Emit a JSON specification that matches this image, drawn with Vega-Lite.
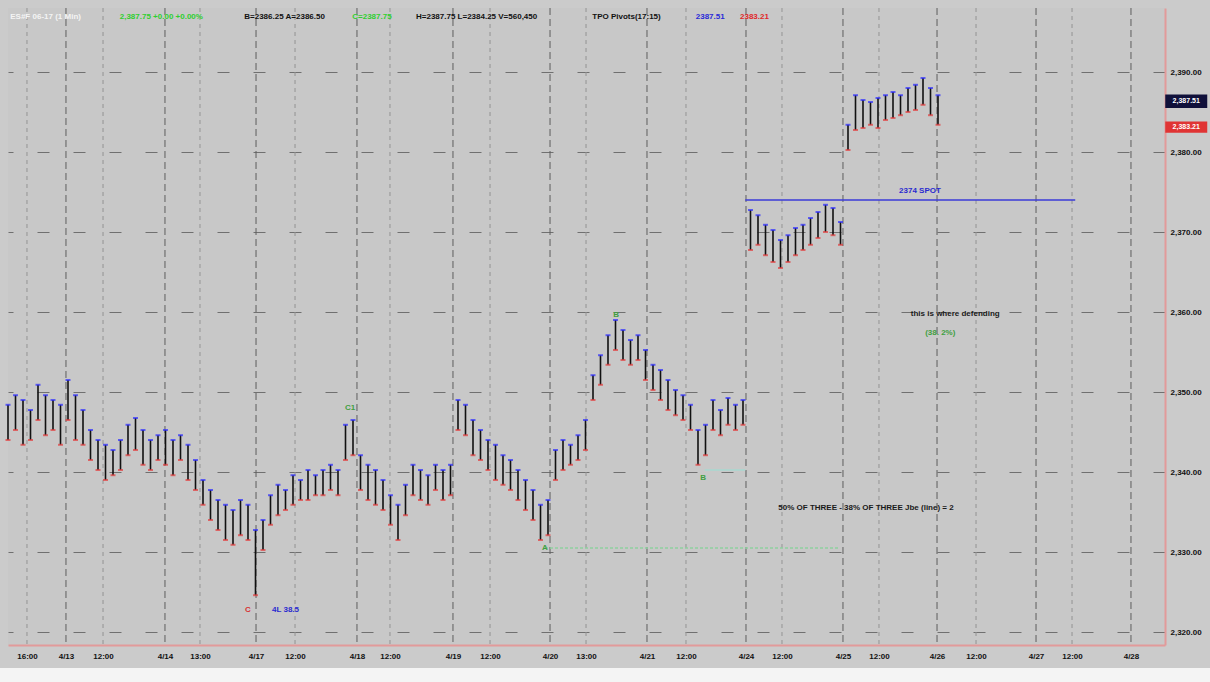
{
  "$schema": "https://vega.github.io/schema/vega-lite/v6.json",
  "autosize": {"type": "none"},
  "width": 1157,
  "height": 637,
  "padding": {"left": 8, "top": 8, "right": 45, "bottom": 37},
  "background": "#cbcbcb",
  "config": {
    "view": {"fill": "#c8c8c8", "stroke": null},
    "font": "Liberation Sans",
    "axis": {"labelFont": "Liberation Sans", "labelFontSize": 8, "labelColor": "#111", "labelFontWeight": "bold", "ticks": false, "title": null}
  },
  "datasets": {
    "bars": [
      {"i":0,"h":2348.4,"l":2344.0},{"i":1,"h":2349.6,"l":2345.25},{"i":2,"h":2349.0,"l":2343.4},{"i":3,"h":2347.75,"l":2344.0},{"i":4,"h":2350.9,"l":2346.5},
      {"i":5,"h":2349.6,"l":2344.6},{"i":6,"h":2349.0,"l":2345.25},{"i":7,"h":2348.4,"l":2343.4},{"i":8,"h":2351.5,"l":2346.5},{"i":9,"h":2349.6,"l":2344.0},
      {"i":10,"h":2347.75,"l":2343.4},{"i":11,"h":2345.25,"l":2341.5},{"i":12,"h":2344.0,"l":2340.25},{"i":13,"h":2343.4,"l":2339.0},{"i":14,"h":2342.75,"l":2339.6},
      {"i":15,"h":2344.0,"l":2340.25},{"i":16,"h":2345.9,"l":2342.1},{"i":17,"h":2346.75,"l":2342.75},{"i":18,"h":2345.25,"l":2340.9},{"i":19,"h":2344.0,"l":2340.25},
      {"i":20,"h":2344.6,"l":2341.5},{"i":21,"h":2345.25,"l":2340.9},{"i":22,"h":2344.0,"l":2339.6},{"i":23,"h":2344.6,"l":2341.5},{"i":24,"h":2343.4,"l":2339.0},
      {"i":25,"h":2341.5,"l":2337.75},{"i":26,"h":2339.0,"l":2335.9},{"i":27,"h":2337.75,"l":2334.0},{"i":28,"h":2336.5,"l":2332.75},{"i":29,"h":2335.9,"l":2331.5},
      {"i":30,"h":2335.25,"l":2330.9},{"i":31,"h":2336.5,"l":2332.1},{"i":32,"h":2335.9,"l":2331.5},{"i":33,"h":2332.75,"l":2324.6},{"i":34,"h":2334.0,"l":2330.25},
      {"i":35,"h":2337.1,"l":2333.4},{"i":36,"h":2338.4,"l":2334.6},{"i":37,"h":2337.75,"l":2335.25},{"i":38,"h":2339.6,"l":2335.9},{"i":39,"h":2339.0,"l":2336.5},
      {"i":40,"h":2340.25,"l":2336.5},{"i":41,"h":2339.6,"l":2337.1},{"i":42,"h":2340.25,"l":2337.1},{"i":43,"h":2340.9,"l":2337.75},{"i":44,"h":2340.25,"l":2337.1},
      {"i":45,"h":2345.9,"l":2341.5},{"i":46,"h":2346.5,"l":2342.1},{"i":47,"h":2342.1,"l":2337.75},{"i":48,"h":2340.9,"l":2336.5},{"i":49,"h":2340.25,"l":2335.9},
      {"i":50,"h":2339.0,"l":2335.25},{"i":51,"h":2337.1,"l":2333.4},{"i":52,"h":2335.9,"l":2331.5},{"i":53,"h":2338.4,"l":2334.6},{"i":54,"h":2340.9,"l":2337.1},
      {"i":55,"h":2340.25,"l":2336.5},{"i":56,"h":2339.6,"l":2335.9},{"i":57,"h":2340.9,"l":2337.75},{"i":58,"h":2340.25,"l":2336.5},{"i":59,"h":2340.9,"l":2337.1},
      {"i":60,"h":2349.0,"l":2345.25},{"i":61,"h":2348.4,"l":2344.6},{"i":62,"h":2346.5,"l":2342.1},{"i":63,"h":2345.25,"l":2341.5},{"i":64,"h":2344.0,"l":2340.25},
      {"i":65,"h":2343.4,"l":2339.0},{"i":66,"h":2342.1,"l":2338.4},{"i":67,"h":2341.5,"l":2337.75},{"i":68,"h":2340.25,"l":2336.5},{"i":69,"h":2339.0,"l":2335.25},
      {"i":70,"h":2337.75,"l":2334.0},{"i":71,"h":2335.9,"l":2331.5},{"i":72,"h":2336.5,"l":2332.1},{"i":73,"h":2342.75,"l":2339.0},{"i":74,"h":2344.0,"l":2340.25},
      {"i":75,"h":2343.4,"l":2340.9},{"i":76,"h":2344.6,"l":2341.5},{"i":77,"h":2346.5,"l":2342.75},{"i":78,"h":2352.1,"l":2349.0},{"i":79,"h":2354.6,"l":2350.9},
      {"i":80,"h":2357.1,"l":2353.4},{"i":81,"h":2359.0,"l":2355.25},{"i":82,"h":2357.75,"l":2354.0},{"i":83,"h":2356.5,"l":2353.4},{"i":84,"h":2357.1,"l":2354.0},
      {"i":85,"h":2355.25,"l":2351.5},{"i":86,"h":2353.4,"l":2350.25},{"i":87,"h":2352.75,"l":2349.0},{"i":88,"h":2351.5,"l":2347.75},{"i":89,"h":2350.25,"l":2347.1},
      {"i":90,"h":2349.6,"l":2346.5},{"i":91,"h":2348.4,"l":2345.25},{"i":92,"h":2345.25,"l":2340.9},{"i":93,"h":2345.9,"l":2342.1},{"i":94,"h":2349.0,"l":2345.25},
      {"i":95,"h":2347.75,"l":2344.6},{"i":96,"h":2349.25,"l":2345.9},{"i":97,"h":2348.4,"l":2345.25},{"i":98,"h":2349.0,"l":2345.9},
      {"i":99,"h":2372.75,"l":2367.75},{"i":100,"h":2372.1,"l":2368.4},{"i":101,"h":2370.9,"l":2367.1},{"i":102,"h":2370.25,"l":2366.25},{"i":103,"h":2369.0,"l":2365.5},
      {"i":104,"h":2369.6,"l":2366.25},{"i":105,"h":2370.5,"l":2367.1},{"i":106,"h":2370.9,"l":2367.75},{"i":107,"h":2371.75,"l":2368.4},{"i":108,"h":2372.5,"l":2369.25},
      {"i":109,"h":2373.4,"l":2370.0},{"i":110,"h":2373.0,"l":2369.6},{"i":111,"h":2371.25,"l":2368.4},
      {"i":112,"h":2383.4,"l":2380.25},{"i":113,"h":2387.1,"l":2382.75},{"i":114,"h":2386.5,"l":2383.0},{"i":115,"h":2386.25,"l":2383.4},{"i":116,"h":2386.75,"l":2383.0},
      {"i":117,"h":2387.1,"l":2384.0},{"i":118,"h":2387.5,"l":2384.25},{"i":119,"h":2387.1,"l":2384.6},{"i":120,"h":2388.0,"l":2385.0},{"i":121,"h":2388.4,"l":2385.25},
      {"i":122,"h":2389.25,"l":2385.9},{"i":123,"h":2388.0,"l":2384.6},{"i":124,"h":2387.1,"l":2383.4}
    ],
    "grid": [
      {"i":2.53,"kind":"hour"},{"i":7.73,"kind":"day"},{"i":12.67,"kind":"hour"},{"i":20.93,"kind":"day"},{"i":25.6,"kind":"hour"},
      {"i":33.07,"kind":"day"},{"i":38.27,"kind":"hour"},{"i":46.53,"kind":"day"},{"i":50.93,"kind":"hour"},{"i":59.33,"kind":"day"},
      {"i":64.27,"kind":"hour"},{"i":72.27,"kind":"day"},{"i":77.07,"kind":"hour"},{"i":85.2,"kind":"day"},{"i":90.4,"kind":"hour"},
      {"i":98.4,"kind":"day"},{"i":103.2,"kind":"hour"},{"i":111.33,"kind":"day"},{"i":116.13,"kind":"hour"},{"i":123.87,"kind":"day"},
      {"i":129.07,"kind":"hour"},{"i":137.07,"kind":"day"},{"i":141.87,"kind":"hour"},{"i":149.73,"kind":"day"}
    ],
    "levels": [
      {"i":98.3,"i2":142.3,"p":2374.0,"kind":"spot"},
      {"i":71.6,"i2":110.9,"p":2330.5,"kind":"wave"},
      {"i":92.9,"i2":98.3,"p":2340.25,"kind":"teal"}
    ],
    "notes": [
      {"i":121.6,"p":2375.1,"text":"2374 SPOT","kind":"spot"},
      {"i":126.3,"p":2359.75,"text":"this is where defending","kind":"comment"},
      {"i":124.3,"p":2357.4,"text":"(38. 2%)","kind":"wave"},
      {"i":114.4,"p":2335.5,"text":"50% OF THREE - 38% OF THREE  Jbe (line) = 2","kind":"comment"},
      {"i":45.6,"p":2348.0,"text":"C1","kind":"wave"},
      {"i":81.1,"p":2359.6,"text":"B","kind":"wave"},
      {"i":71.6,"p":2330.5,"text":"A","kind":"wave"},
      {"i":92.7,"p":2339.25,"text":"B","kind":"wave"},
      {"i":32.0,"p":2322.75,"text":"C","kind":"low"},
      {"i":37.0,"p":2322.75,"text":"4L 38.5","kind":"spot"}
    ],
    "header": [
      {"i":0.3,"p":2396.9,"text":"ES#F 06-17 (1 Min)","kind":"symbol"},
      {"i":14.9,"p":2396.9,"text":"2,387.75  +0.00  +0.00%","kind":"up"},
      {"i":31.5,"p":2396.9,"text":"B=2386.25  A=2386.50","kind":"plain"},
      {"i":45.9,"p":2396.9,"text":"C=2387.75","kind":"up"},
      {"i":54.4,"p":2396.9,"text":"H=2387.75  L=2384.25  V=560,450","kind":"plain"},
      {"i":77.9,"p":2396.9,"text":"TPO Pivots(17:15)","kind":"plain"},
      {"i":91.7,"p":2396.9,"text":"2387.51","kind":"hi"},
      {"i":97.6,"p":2396.9,"text":"2383.21","kind":"lo"}
    ],
    "flags": [
      {"a":154.3,"b":159.9,"top":2387.2,"bot":2385.5,"mid":2386.35,"text":"2,387.51","kind":"hi"},
      {"a":154.3,"b":159.9,"top":2383.8,"bot":2382.4,"mid":2383.1,"text":"2,383.21","kind":"lo"}
    ],
    "strip": [
      {"a":-1.1,"b":160.3,"top":2315.5,"bot":2313.5}
    ]
  },
  "resolve": {"scale": {"color": "independent", "strokeDash": "independent", "fill": "independent"}},
  "layer": [
    {
      "data": {"name": "strip"},
      "mark": {"type": "rect", "color": "#f4f4f4"},
      "encoding": {
        "x": {"field": "a", "type": "quantitative"},
        "x2": {"field": "b"},
        "y": {"field": "top", "type": "quantitative"},
        "y2": {"field": "bot"}
      }
    },
    {
      "data": {"name": "grid"},
      "mark": {"type": "rule", "strokeWidth": 1},
      "encoding": {
        "x": {"field": "i", "type": "quantitative", "scale": {"domain": [0, 154.2667], "nice": false, "zero": false},
              "axis": {"orient": "bottom", "values": [2.53,7.73,12.67,20.93,25.6,33.07,38.27,46.53,50.93,59.33,64.27,72.27,77.07,85.2,90.4,98.4,103.2,111.33,116.13,123.87,129.07,137.07,141.87,149.73],
                       "labelExpr": "['16:00','4/13','12:00','4/14','13:00','4/17','12:00','4/18','12:00','4/19','12:00','4/20','13:00','4/21','12:00','4/24','12:00','4/25','12:00','4/26','12:00','4/27','12:00','4/28'][indexof([2.53,7.73,12.67,20.93,25.6,33.07,38.27,46.53,50.93,59.33,64.27,72.27,77.07,85.2,90.4,98.4,103.2,111.33,116.13,123.87,129.07,137.07,141.87,149.73], datum.value)]",
                       "grid": false, "domainColor": "#e29a9a", "domainWidth": 2, "labelPadding": 7, "labelFlush": false}},
        "color": {"field": "kind", "type": "nominal", "scale": {"domain": ["day", "hour"], "range": ["#5e5e5e", "#949494"]}, "legend": null},
        "strokeDash": {"field": "kind", "type": "nominal", "scale": {"domain": ["day", "hour"], "range": [[7, 4], [4, 4]]}, "legend": null}
      }
    },
    {
      "data": {"name": "bars"},
      "mark": {"type": "rule", "color": "#111", "strokeWidth": 1.6},
      "encoding": {
        "x": {"field": "i", "type": "quantitative"},
        "y": {"field": "l", "type": "quantitative", "scale": {"domain": [2318.375, 2398], "nice": false, "zero": false},
              "axis": {"orient": "right", "values": [2320,2330,2340,2350,2360,2370,2380,2390], "format": ",.2f",
                       "grid": true, "gridColor": "#707070", "gridDash": [12, 24], "gridWidth": 1,
                       "domainColor": "#e29a9a", "domainWidth": 2, "labelPadding": 5}},
        "y2": {"field": "h"}
      }
    },
    {
      "data": {"name": "levels"},
      "mark": {"type": "rule"},
      "encoding": {
        "x": {"field": "i", "type": "quantitative"},
        "x2": {"field": "i2"},
        "y": {"field": "p", "type": "quantitative"},
        "color": {"field": "kind", "type": "nominal", "scale": {"domain": ["spot", "wave", "teal"], "range": ["#3a3ad8", "#8fcf9f", "#a8d8d0"]}, "legend": null},
        "strokeDash": {"field": "kind", "type": "nominal", "scale": {"domain": ["spot", "wave", "teal"], "range": [[1, 0], [3, 2], [1, 0]]}, "legend": null},
        "strokeWidth": {"value": 1.5}
      }
    },
    {
      "data": {"name": "bars"},
      "mark": {"type": "tick", "orient": "horizontal", "size": 5, "thickness": 2, "color": "#2b2bff"},
      "encoding": {
        "x": {"field": "i", "type": "quantitative"},
        "y": {"field": "h", "type": "quantitative"}
      }
    },
    {
      "data": {"name": "bars"},
      "mark": {"type": "tick", "orient": "horizontal", "size": 5, "thickness": 2, "color": "#e23a3a"},
      "encoding": {
        "x": {"field": "i", "type": "quantitative"},
        "y": {"field": "l", "type": "quantitative"}
      }
    },
    {
      "data": {"name": "notes"},
      "mark": {"type": "text", "fontSize": 8, "fontWeight": "bold", "align": "center", "baseline": "middle"},
      "encoding": {
        "x": {"field": "i", "type": "quantitative"},
        "y": {"field": "p", "type": "quantitative"},
        "text": {"field": "text"},
        "color": {"field": "kind", "type": "nominal", "scale": {"domain": ["spot", "comment", "wave", "low"], "range": ["#2a2ad0", "#1a1a1a", "#3f9f3f", "#d83030"]}, "legend": null}
      }
    },
    {
      "data": {"name": "header"},
      "mark": {"type": "text", "fontSize": 8, "fontWeight": "bold", "align": "left", "baseline": "middle"},
      "encoding": {
        "x": {"field": "i", "type": "quantitative"},
        "y": {"field": "p", "type": "quantitative"},
        "text": {"field": "text"},
        "color": {"field": "kind", "type": "nominal", "scale": {"domain": ["symbol", "up", "plain", "hi", "lo"], "range": ["#f4f4f4", "#2fcf2f", "#111111", "#2a2ad8", "#e02828"]}, "legend": null}
      }
    },
    {
      "data": {"name": "flags"},
      "mark": {"type": "rect"},
      "encoding": {
        "x": {"field": "a", "type": "quantitative"},
        "x2": {"field": "b"},
        "y": {"field": "top", "type": "quantitative"},
        "y2": {"field": "bot"},
        "fill": {"field": "kind", "type": "nominal", "scale": {"domain": ["hi", "lo"], "range": ["#10103a", "#e03434"]}, "legend": null}
      }
    },
    {
      "data": {"name": "flags"},
      "mark": {"type": "text", "fontSize": 7, "fontWeight": "bold", "align": "center", "baseline": "middle", "color": "#ffffff"},
      "encoding": {
        "x": {"field": "a", "type": "quantitative"},
        "y": {"field": "mid", "type": "quantitative"},
        "text": {"field": "text"},
        "xOffset": {"value": 21}
      }
    }
  ]
}
